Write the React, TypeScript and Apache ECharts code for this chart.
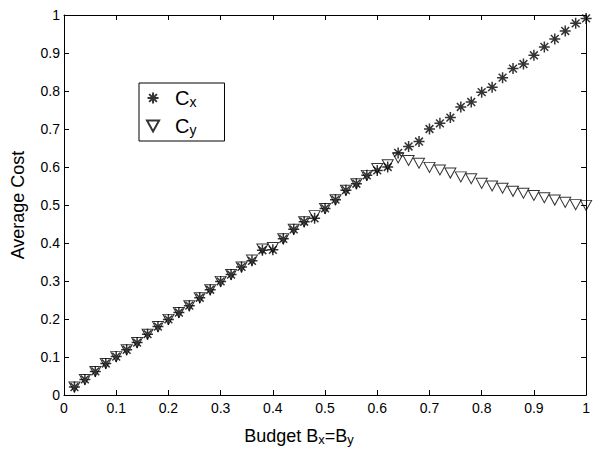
import React, { useEffect, useRef } from 'react';
import * as echarts from 'echarts';

// Budget levels (Bx = By)
const budget = [
  0.02, 0.04, 0.06, 0.08, 0.1, 0.12, 0.14, 0.16, 0.18, 0.2,
  0.22, 0.24, 0.26, 0.28, 0.3, 0.32, 0.34, 0.36, 0.38, 0.4,
  0.42, 0.44, 0.46, 0.48, 0.5, 0.52, 0.54, 0.56, 0.58, 0.6,
  0.62, 0.64, 0.66, 0.68, 0.7, 0.72, 0.74, 0.76, 0.78, 0.8,
  0.82, 0.84, 0.86, 0.88, 0.9, 0.92, 0.94, 0.96, 0.98, 1.0,
];

// Average cost Cx
const costX = [
  0.021, 0.041, 0.062, 0.083, 0.101, 0.119, 0.138, 0.16, 0.18, 0.199,
  0.217, 0.235, 0.256, 0.277, 0.299, 0.317, 0.337, 0.353, 0.381, 0.382,
  0.411, 0.436, 0.456, 0.465, 0.491, 0.514, 0.539, 0.556, 0.578, 0.591,
  0.6, 0.637, 0.654, 0.667, 0.7, 0.715, 0.73, 0.758, 0.771, 0.797,
  0.81, 0.835, 0.859, 0.871, 0.894, 0.916, 0.937, 0.958, 0.978, 0.991,
];

// Average cost Cy
const costY = [
  0.021, 0.041, 0.062, 0.083, 0.101, 0.119, 0.138, 0.16, 0.18, 0.199,
  0.217, 0.235, 0.256, 0.277, 0.299, 0.317, 0.337, 0.355, 0.384, 0.388,
  0.411, 0.436, 0.456, 0.472, 0.491, 0.514, 0.539, 0.556, 0.578, 0.596,
  0.606, 0.624, 0.617, 0.61, 0.599, 0.592, 0.584, 0.574, 0.569, 0.557,
  0.55, 0.544, 0.536, 0.531, 0.525, 0.519, 0.513, 0.507, 0.501, 0.499,
];

const FONT = '"Liberation Sans", Arial, Helvetica, sans-serif';
const STAR = 'path://M0,5L10,5M5,0L5,10M1.46,1.46L8.54,8.54M8.54,1.46L1.46,8.54';
const TRI = 'path://M0,0L11,0L5.5,10Z';

const pairs = (ys: number[]) => budget.map((b, i) => [b, ys[i]]);

const nameRich = {
  a: { fontSize: 18, lineHeight: 20, fontFamily: FONT, color: '#000' },
  s: { fontSize: 13, lineHeight: 16, verticalAlign: 'bottom', fontFamily: FONT, color: '#000' },
};

const legendRich = {
  a: { fontSize: 20, lineHeight: 22, fontFamily: FONT, color: '#000' },
  s: { fontSize: 14, lineHeight: 16, verticalAlign: 'bottom', fontFamily: FONT, color: '#000' },
};

const tickFmt = (v: number) => String(+v.toFixed(1));

const frameAxis = (position: string, labels: boolean) => ({
  type: 'value',
  position,
  min: 0,
  max: 1,
  interval: 0.1,
  axisLine: { show: true, onZero: false, lineStyle: { color: '#000', width: 1 } },
  axisTick: { show: true, inside: true, length: 5, lineStyle: { color: '#000', width: 1 } },
  splitLine: { show: false },
  axisLabel: {
    show: labels,
    color: '#000',
    fontSize: 14,
    fontFamily: FONT,
    formatter: tickFmt,
  },
});

export default function App() {
  const ref = useRef<HTMLDivElement>(null);

  useEffect(() => {
    if (!ref.current) return;
    const chart = echarts.init(ref.current, undefined, { renderer: 'svg' });
    const xBottom: any = {
      ...frameAxis('bottom', true),
      name: '{a|Budget B}{s|x}{a|=B}{s|y}',
      nameLocation: 'middle',
      nameGap: 31,
      nameTextStyle: { fontSize: 18, fontFamily: FONT, color: '#000', rich: nameRich, padding: [0, 52, 0, 0] },
    };
    xBottom.axisLabel.margin = 6;
    const yLeft: any = {
      ...frameAxis('left', true),
      name: 'Average Cost',
      nameLocation: 'middle',
      nameGap: 36,
      nameTextStyle: { fontSize: 18, fontFamily: FONT, color: '#000', lineHeight: 20 },
    };
    yLeft.axisLabel.margin = 4;

    chart.setOption({
      animation: false,
      backgroundColor: '#fff',
      grid: { left: 63, top: 15, right: 1, bottom: 53, containLabel: false },
      xAxis: [xBottom, frameAxis('top', false)],
      yAxis: [yLeft, frameAxis('right', false)],
      legend: {
        left: 139,
        top: 83,
        orient: 'vertical',
        selectedMode: false,
        backgroundColor: '#fff',
        borderColor: '#000',
        borderWidth: 1,
        borderRadius: 0,
        padding: [5, 28, 4, 7],
        itemGap: 7,
        itemWidth: 34,
        itemHeight: 11,
        data: [
          { name: 'Cx', icon: STAR },
          { name: 'Cy', icon: TRI },
        ],
        formatter: (name: string) => `{a|C}{s|${name.slice(1)}}`,
        textStyle: { rich: legendRich },
      },
      series: [
        {
          name: 'Cx',
          type: 'scatter',
          data: pairs(costX),
          symbol: STAR,
          symbolSize: 11,
          itemStyle: { color: 'transparent', borderColor: '#000', borderWidth: 1.5 },
          emphasis: { disabled: true },
        },
        {
          name: 'Cy',
          type: 'scatter',
          data: pairs(costY),
          symbol: TRI,
          symbolSize: [11, 10],
          itemStyle: { color: 'transparent', borderColor: '#000', borderWidth: 1 },
          emphasis: { disabled: true },
        },
      ],
    });
    return () => chart.dispose();
  }, []);

  return <div ref={ref} style={{ width: 593, height: 451, position: 'absolute', left: 0, top: 0 }} />;
}
